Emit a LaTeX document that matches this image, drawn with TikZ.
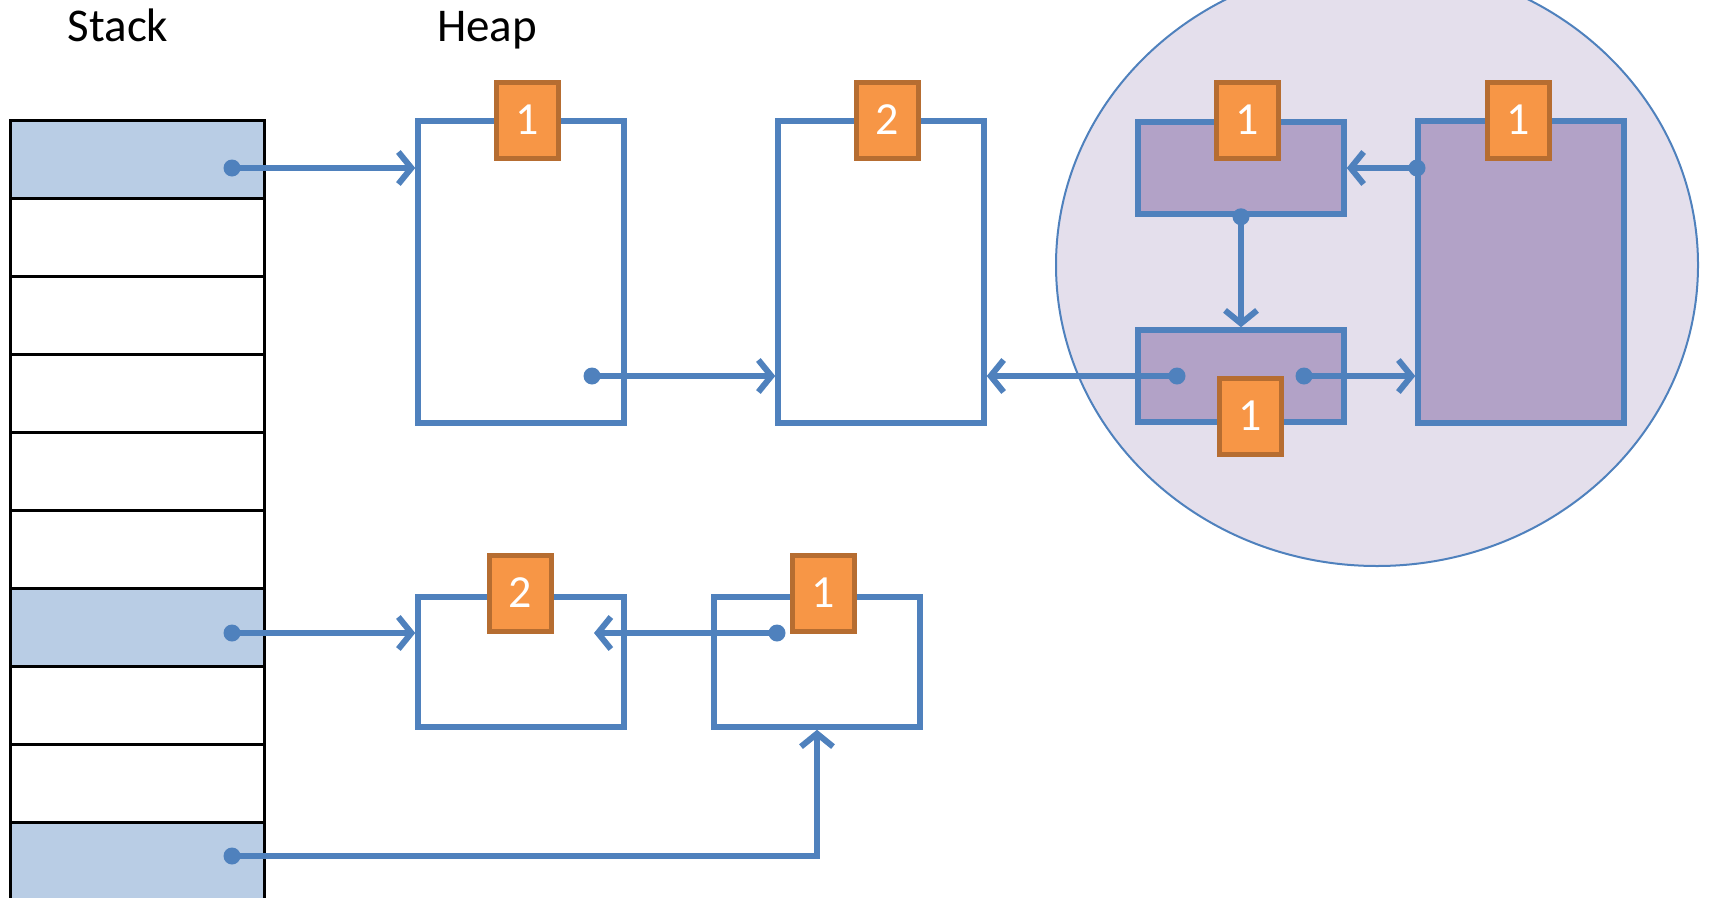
\documentclass[tikz,border=0pt]{standalone}
\usepackage{fontspec}
\setmainfont{Carlito}
\usetikzlibrary{arrows.meta}

\definecolor{ptrblue}{HTML}{4F81BD}
\definecolor{cellblue}{HTML}{B9CDE5}
\definecolor{cntfill}{HTML}{F79646}
\definecolor{cntline}{HTML}{B66D31}
\definecolor{objpurple}{HTML}{B2A2C7}
\definecolor{cyclefill}{HTML}{E4DFEC}

\tikzset{
	cell/.style={draw=black, line width=3pt, minimum width=254pt, minimum height=78pt, inner sep=0pt},
	heapobj/.style={draw=ptrblue, line width=5.5pt, inner sep=0pt},
	count/.style={draw=cntline, fill=cntfill, line width=5pt, minimum width=62pt, minimum height=76pt,
			inner sep=0pt, text=white, font=\fontsize{46}{46}\selectfont},
	dot/.style={circle, fill=ptrblue, minimum size=17pt, inner sep=0pt},
	ptr/.style={draw=ptrblue, line width=6pt, line cap=round, -{Straight Barb[length=13pt, width=32pt]}},
	title/.style={anchor=base, font=\fontsize{47}{50}\selectfont},
}

\begin{document}
\begin{tikzpicture}[x=1pt, y=-1pt]
		\useasboundingbox (0, 0) rectangle (1710, 897);
		\clip (0, 0) rectangle (1710, 897);

		\node[title] (stacklbl) at (118, 41) {Stack};
		\node[title] (heaplbl) at (487, 41) {Heap};

		% stack frames
		\foreach \i/\shade in {1/cellblue, 2/white, 3/white, 4/white, 5/white,
				6/white, 7/cellblue, 8/white, 9/white, 10/cellblue}{
				\node[cell, fill=\shade] (cell\i) at (137, 81 + 78*\i) {};
			}

		% cycle
		\draw[draw=ptrblue, fill=cyclefill, line width=2pt] (1377, 265) ellipse [x radius=321pt, y radius=301pt];

		\node[heapobj, minimum width=206pt, minimum height=302pt] (objA) at (521, 272) {};
		\node[heapobj, minimum width=206pt, minimum height=302pt] (objB) at (881, 272) {};
		\node[heapobj, fill=objpurple, minimum width=206pt, minimum height=92pt] (objC) at (1241, 168) {};
		\node[heapobj, fill=objpurple, minimum width=206pt, minimum height=92pt] (objD) at (1241, 376) {};
		\node[heapobj, fill=objpurple, minimum width=206pt, minimum height=302pt] (objE) at (1521, 272) {};
		\node[heapobj, minimum width=206pt, minimum height=130pt] (objF) at (521, 662) {};
		\node[heapobj, minimum width=206pt, minimum height=130pt] (objG) at (817, 662) {};

		\node[dot] (s1) at (232, 168) {};
		\node[dot] (s7) at (232, 633) {};
		\node[dot] (s10) at (232, 856) {};
		\node[dot] (aout) at (592, 376) {};
		\node[dot] (cout) at (objC.south) {};
		\node[dot] (dleft) at (1177, 376) {};
		\node[dot] (dright) at (1304, 376) {};
		\node[dot] (eout) at (1417, 168) {};
		\node[dot] (gout) at (777, 633) {};
		\coordinate (fin) at (594, 633);

		\draw[ptr] (s1.center) -- (s1 -| objA.west);
		\draw[ptr] (aout.center) -- (aout -| objB.west);
		\draw[ptr] (dleft.center) -- (dleft -| objB.east);
		\draw[ptr] (dright.center) -- (dright -| objE.west);
		\draw[ptr] (cout.center) -- (objD.north);
		\draw[ptr] (eout.center) -- (eout -| objC.east);
		\draw[ptr] (s7.center) -- (s7 -| objF.west);
		\draw[ptr] (gout.center) -- (fin);
		\draw[ptr] (s10.center) -| (objG.south);

		% reference counts
		\node[count] (cntA) at (527, 120) {1};
		\node[count] (cntB) at (887, 120) {2};
		\node[count] (cntC) at (1247, 120) {1};
		\node[count] (cntE) at (1518, 120) {1};
		\node[count] (cntD) at (1250, 416) {1};
		\node[count] (cntF) at (520, 593) {2};
		\node[count] (cntG) at (823, 593) {1};
	\end{tikzpicture}
\end{document}
